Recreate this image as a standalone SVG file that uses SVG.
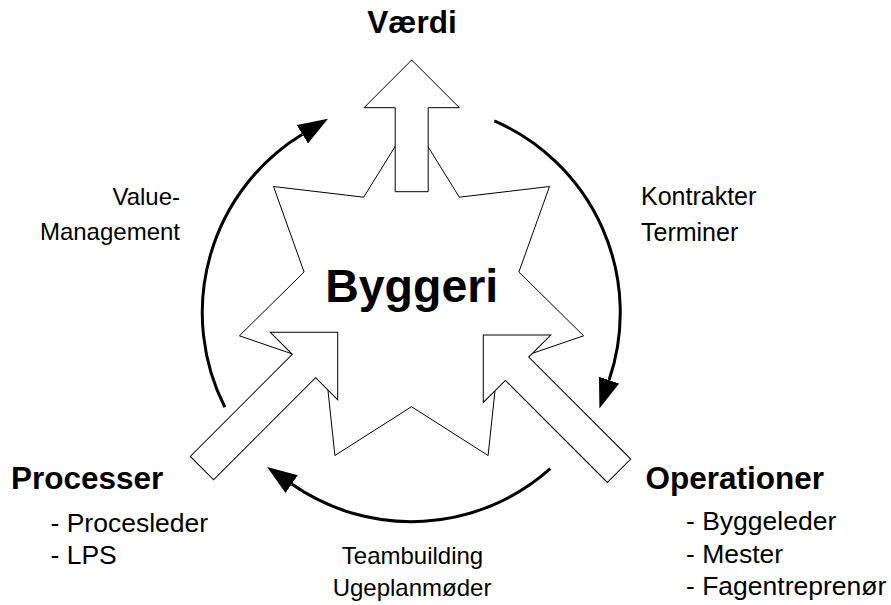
<svg xmlns="http://www.w3.org/2000/svg" width="891" height="605" viewBox="0 0 891 605">
  <style>
    text { font-family: "Liberation Sans", Arial, sans-serif; fill: #000; }
    .title { font-size: 31.5px; font-weight: bold; }
    .core { font-size: 46.5px; font-weight: bold; }
    .note { font-size: 25px; }
    .note-m { font-size: 24px; }
    .item { font-size: 26.5px; }
    .shape { fill: #fff; stroke: #000; stroke-width: 1; stroke-linejoin: miter; }
    .cycle { fill: none; stroke: #000; stroke-width: 3; marker-end: url(#head); }
  </style>
  <defs>
    <marker id="head" markerUnits="userSpaceOnUse" markerWidth="30" markerHeight="22" viewBox="0 0 28 20" refX="0" refY="10" orient="auto">
      <path d="M0,0 L28,10 L0,20 z" fill="#000"/>
    </marker>
  </defs>

  <rect width="891" height="605" fill="#fff"/>

  <!-- seven-pointed star: the building project -->
  <g id="byggeri">
    <polygon class="shape" points="411.5,120 459.3,197.2 549.5,186.5 518.9,272 583.6,335.8 497.7,365.2 488.1,455.5 411.5,406.7 334.9,455.5 325.3,365.2 239.4,335.8 304.1,272 273.5,186.5 363.7,197.2"/>
    <text class="core" x="411.7" y="301.7" text-anchor="middle">Byggeri</text>
  </g>

  <!-- block arrows: value out, processes and operations in -->
  <g id="vaerdi">
    <polygon class="shape" transform="translate(411.7,60)" points="0,0 47.7,47.7 16.5,47.7 16.5,131.7 -16.5,131.7 -16.5,47.7 -47.7,47.7"/>
    <text class="title" x="412" y="33" text-anchor="middle">Værdi</text>
  </g>

  <g id="processer">
    <polygon class="shape" transform="translate(337.7,332.3) rotate(45)" points="0,0 47.7,47.7 16.5,47.7 16.5,192 -16.5,192 -16.5,47.7 -47.7,47.7"/>
    <text class="title" x="11" y="489">Processer</text>
    <text class="item" x="50.5" y="531.7">- Procesleder</text>
    <text class="item" x="50.5" y="564">- LPS</text>
  </g>

  <g id="operationer">
    <polygon class="shape" transform="translate(483.3,335) rotate(-45)" points="0,0 47.7,47.7 16.5,47.7 16.5,192 -16.5,192 -16.5,47.7 -47.7,47.7"/>
    <text class="title" x="645.5" y="489">Operationer</text>
    <text class="item" x="686" y="530">- Byggeleder</text>
    <text class="item" x="686" y="562.5">- Mester</text>
    <text class="item" x="686" y="595">- Fagentreprenør</text>
  </g>

  <!-- circular flow arrows -->
  <g id="connectors">
    <path class="cycle" d="M494.3,120.9 A209,209 0 0 1 609.1,380.1"/>
    <path class="cycle" d="M550.3,468.7 A209,209 0 0 1 291.7,484.1"/>
    <path class="cycle" d="M224.9,407.3 A209,209 0 0 1 302.4,134.3"/>
  </g>

  <!-- flow labels -->
  <g id="labels">
    <text class="note-m" x="180" y="205" text-anchor="end">Value-</text>
    <text class="note-m" x="180" y="240" text-anchor="end">Management</text>
    <text class="note" x="641" y="205">Kontrakter</text>
    <text class="note" x="641" y="241">Terminer</text>
    <text class="note-m" x="412.5" y="564" text-anchor="middle">Teambuilding</text>
    <text class="note-m" x="412" y="596" text-anchor="middle">Ugeplanmøder</text>
  </g>
</svg>
